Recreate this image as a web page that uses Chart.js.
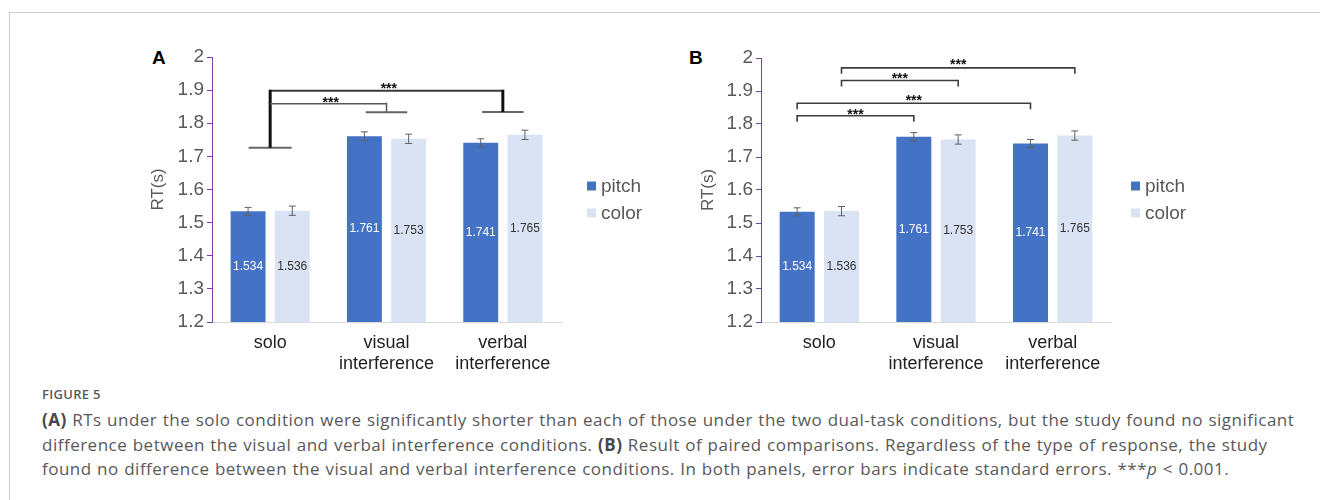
<!DOCTYPE html>
<html>
<head>
<meta charset="utf-8">
<script src="https://cdn.jsdelivr.net/npm/chart.js@4.4.1/dist/chart.umd.min.js"></script>
<style>
  body { margin: 0; background: #fff; width: 1320px; height: 500px; overflow: hidden; position: relative; }
  #frame { position: absolute; left: 9px; top: 12px; width: 1400px; height: 600px; border-top: 1px solid #cfcfcf; border-left: 1px solid #cfcfcf; }
  .panel { position: absolute; top: 40px; width: 545px; height: 335px; }
  .tag { position: absolute; top: 48px; font: bold 19px/1 "Liberation Sans", Arial, sans-serif; color: #000; }
  #figno { position: absolute; left: 42px; top: 385px; font: 600 13px "Open Sans", sans-serif; color: #5a5a5a; letter-spacing: 0.3px; }
  #caption { position: absolute; left: 42px; top: 408px; font: 17px/24.5px "Open Sans", sans-serif; color: #595959; white-space: nowrap; letter-spacing: 0.5px; word-spacing: 0.5px; }
  #caption b { font-weight: 700; color: #474747; }
</style>
</head>
<body>
<div id="frame"></div>
<div class="tag" style="left:152px">A</div>
<div class="tag" style="left:689px">B</div>
<div class="panel" style="left:120px"><canvas id="chartA" width="545" height="335"></canvas></div>
<div class="panel" style="left:670px"><canvas id="chartB" width="545" height="335"></canvas></div>
<div id="figno">FIGURE 5</div>
<div id="caption"><b>(A)</b> RTs under the solo condition were significantly shorter than each of those under the two dual-task conditions, but the study found no significant<br>difference between the visual and verbal interference conditions. <b>(B)</b> Result of paired comparisons. Regardless of the type of response, the study<br>found no difference between the visual and verbal interference conditions. In both panels, error bars indicate standard errors. ***<i>p</i> &lt; 0.001.</div>

<script>
// values
const categories = [['solo'], ['visual', 'interference'], ['verbal', 'interference']];
const seriesNames = ['pitch', 'color'];
const pitchRT = [1.534, 1.761, 1.741];
const colorRT = [1.536, 1.753, 1.765];
const pitchSE = [0.012, 0.013, 0.012];
const colorSE = [0.014, 0.014, 0.014];
const yMin = 1.2;
const yMax = 2;
const yStep = 0.1;
const sigText = '***';

// panel A: grouped comparison (x = category position, y = RT)
const capsA = [
  { x: 0, y: 1.726, half: 0.185 },
  { x: 1, y: 1.833, half: 0.178 },
  { x: 2, y: 1.834, half: 0.178 }
];
const linksA = [
  { from: 0, to: 2, y: 1.898, start: 1.726, end: 1.834, heavy: true },
  { from: 0, to: 1, y: 1.859, start: 1.859, end: 1.833, heavy: false }
];
const starsA = [
  { x: 1.02, y: 1.916 },
  { x: 0.52, y: 1.872 }
];

// panel B: pairwise brackets between bars, [series, category]
const pairsB = [
  { a: [0, 0], b: [0, 1], y: 1.825, star: 1.840 },
  { a: [0, 0], b: [0, 2], y: 1.863, star: 1.883 },
  { a: [1, 0], b: [1, 1], y: 1.932, star: 1.947 },
  { a: [1, 0], b: [1, 2], y: 1.970, star: 1.990 }
];
const dropB = 0.018;

const barColors = ['#4472c4', '#dae3f3'];
const valueColors = ['#ffffff', '#333333'];
const errors = [pitchSE, colorSE];

Chart.defaults.font.family = '"Liberation Sans", Arial, sans-serif';

const barExtras = {
  id: 'barExtras',
  afterDatasetsDraw(chart) {
    const { ctx } = chart;
    const ys = chart.scales.y;
    ctx.save();
    chart.data.datasets.forEach((ds, i) => {
      chart.getDatasetMeta(i).data.forEach((bar, j) => {
        const v = ds.data[j];
        const se = errors[i][j];
        // value label in the middle of the bar
        ctx.fillStyle = valueColors[i];
        ctx.font = '12px "Liberation Sans", Arial, sans-serif';
        ctx.textAlign = 'center';
        ctx.textBaseline = 'middle';
        ctx.fillText(v.toFixed(3), bar.x, ys.getPixelForValue((v + yMin) / 2));
        // error bar
        const top = ys.getPixelForValue(v + se);
        const bot = ys.getPixelForValue(v - se);
        ctx.strokeStyle = '#606060';
        ctx.lineWidth = 1;
        ctx.beginPath();
        ctx.moveTo(bar.x, top); ctx.lineTo(bar.x, bot);
        ctx.moveTo(bar.x - 3.5, top); ctx.lineTo(bar.x + 3.5, top);
        ctx.moveTo(bar.x - 3.5, bot); ctx.lineTo(bar.x + 3.5, bot);
        ctx.stroke();
      });
    });
    ctx.restore();
  }
};

const sideLegend = {
  id: 'sideLegend',
  afterDraw(chart, args, opts) {
    const { ctx, chartArea } = chart;
    ctx.save();
    ctx.font = '19px "Liberation Sans", Arial, sans-serif';
    ctx.textBaseline = 'middle';
    ctx.textAlign = 'left';
    chart.data.datasets.forEach((ds, i) => {
      const x = chartArea.right + opts.left;
      const y = chartArea.top + opts.top + i * opts.gap;
      ctx.fillStyle = ds.backgroundColor;
      ctx.fillRect(x, y - 4.5, 9, 9);
      ctx.fillStyle = '#595959';
      ctx.fillText(ds.label, x + 14, y + 1);
    });
    ctx.restore();
  }
};

function drawStars(ctx, x, y) {
  ctx.fillStyle = '#111';
  ctx.font = 'bold 14px "Liberation Sans", Arial, sans-serif';
  ctx.textAlign = 'center';
  ctx.textBaseline = 'alphabetic';
  ctx.fillText(sigText, x, y + 8);
}

const bracketsA = {
  id: 'bracketsA',
  afterDraw(chart) {
    const { ctx } = chart;
    const xs = chart.scales.x, ys = chart.scales.y;
    ctx.save();
    ctx.lineCap = 'butt';
    capsA.forEach(c => {
      ctx.strokeStyle = '#666';
      ctx.lineWidth = 2;
      ctx.beginPath();
      ctx.moveTo(xs.getPixelForValue(c.x - c.half), ys.getPixelForValue(c.y));
      ctx.lineTo(xs.getPixelForValue(c.x + c.half), ys.getPixelForValue(c.y));
      ctx.stroke();
    });
    linksA.forEach(l => {
      const x0 = xs.getPixelForValue(l.from), x1 = xs.getPixelForValue(l.to);
      const y = ys.getPixelForValue(l.y);
      ctx.strokeStyle = l.heavy ? '#3a3a3a' : '#5a5a5a';
      ctx.lineWidth = l.heavy ? 2 : 1.5;
      ctx.beginPath();
      ctx.moveTo(x0, y); ctx.lineTo(x1, y);
      ctx.stroke();
      ctx.strokeStyle = l.heavy ? '#111' : '#5a5a5a';
      ctx.lineWidth = l.heavy ? 3 : 1.5;
      ctx.beginPath();
      ctx.moveTo(x0, ys.getPixelForValue(l.start)); ctx.lineTo(x0, y - (l.heavy ? 1 : 0));
      ctx.moveTo(x1, y - 1); ctx.lineTo(x1, ys.getPixelForValue(l.end));
      ctx.stroke();
    });
    starsA.forEach(s => drawStars(ctx, xs.getPixelForValue(s.x), ys.getPixelForValue(s.y)));
    ctx.restore();
  }
};

const bracketsB = {
  id: 'bracketsB',
  afterDraw(chart) {
    const { ctx } = chart;
    const ys = chart.scales.y;
    ctx.save();
    pairsB.forEach(p => {
      const xa = chart.getDatasetMeta(p.a[0]).data[p.a[1]].x;
      const xb = chart.getDatasetMeta(p.b[0]).data[p.b[1]].x;
      const y = ys.getPixelForValue(p.y);
      const yd = ys.getPixelForValue(p.y - dropB);
      ctx.strokeStyle = '#3d3d3d';
      ctx.lineWidth = 1.6;
      ctx.beginPath();
      ctx.moveTo(xa, yd); ctx.lineTo(xa, y); ctx.lineTo(xb, y); ctx.lineTo(xb, yd);
      ctx.stroke();
      drawStars(ctx, (xa + xb) / 2, ys.getPixelForValue(p.star));
    });
    ctx.restore();
  }
};

function makeChart(id, area, extra) {
  return new Chart(document.getElementById(id), {
    type: 'bar',
    data: {
      labels: categories,
      datasets: [
        { label: seriesNames[0], data: pitchRT, backgroundColor: barColors[0] },
        { label: seriesNames[1], data: colorRT, backgroundColor: barColors[1] }
      ]
    },
    options: {
      animation: false,
      responsive: false,
      categoryPercentage: 0.76,
      barPercentage: 0.79,
      layout: { padding: { left: 24, top: area.top, right: 545 - area.right, bottom: 335 - area.bottom - 50 } },
      plugins: {
        legend: { display: false },
        tooltip: { enabled: false },
        sideLegend: { left: area.legendLeft, top: area.legendTop, gap: 27 }
      },
      scales: {
        x: {
          grid: { display: false },
          border: { display: true, color: '#d9d9d9', width: 1 },
          ticks: { color: '#1f1f1f', font: { size: 18 }, padding: 2, maxRotation: 0, autoSkip: false },
          afterFit: s => { s.height = 50; }
        },
        y: {
          min: yMin,
          max: yMax,
          ticks: {
            stepSize: yStep, color: '#595959', font: { size: 19 }, padding: 3,
            callback: v => String(Math.round(v * 10) / 10)
          },
          grid: { display: true, drawOnChartArea: false, drawTicks: true, tickLength: 5, color: '#7b3fa8' },
          border: { display: true, color: '#7b3fa8', width: 1 },
          title: { display: true, text: 'RT(s)', color: '#595959', font: { size: 17 }, padding: { top: 4, bottom: 4 } },
          afterFit: s => { s.width = area.left - 24; }
        }
      }
    },
    plugins: [barExtras, sideLegend, extra]
  });
}

makeChart('chartA', { left: 92, right: 441, top: 17, bottom: 282, legendLeft: 26, legendTop: 129 }, bracketsA);
makeChart('chartB', { left: 91, right: 441, top: 18, bottom: 282, legendLeft: 20, legendTop: 128 }, bracketsB);
</script>
</body>
</html>
